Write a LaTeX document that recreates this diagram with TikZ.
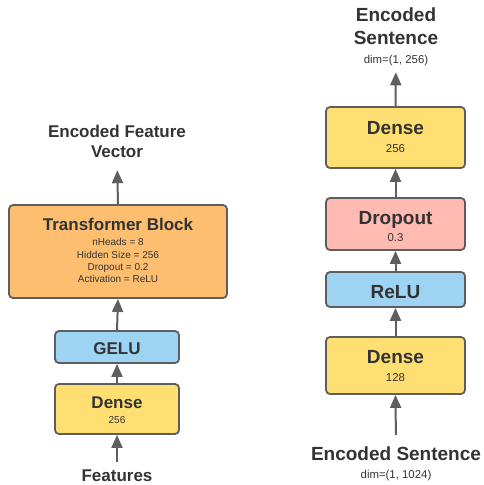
\documentclass[tikz,border=0pt]{standalone}
\usepackage{fontspec}
\setmainfont{Liberation Sans}
\usetikzlibrary{arrows.meta,positioning}
\definecolor{edge}{HTML}{5E5E5E}
\definecolor{wire}{HTML}{5F5F5F}
\definecolor{ink}{HTML}{333333}
\definecolor{tfcol}{HTML}{FDBF6F}
\definecolor{densecol}{HTML}{FFDF71}
\definecolor{actcol}{HTML}{9DD3F3}
\definecolor{dropcol}{HTML}{FFBAB2}

\begin{document}
\begin{tikzpicture}[x=1pt,y=-1pt,
		layer/.style={draw=edge,line width=1.8pt,rounded corners=4pt,inner sep=0pt},
		head/.style={font=\bfseries\fontsize{17}{20.3}\selectfont,text=ink,inner sep=0pt,text height=12.2pt,text depth=0pt},
		note/.style={font=\fontsize{10}{12}\selectfont,text=ink,inner sep=0pt,text height=7.2pt,text depth=0pt},
		headR/.style={head,font=\bfseries\fontsize{19}{23}\selectfont,text height=13.7pt},
		noteR/.style={note,font=\fontsize{11.4}{13}\selectfont,text height=8.2pt},
		flow/.style={draw=wire,line width=2pt,-{Triangle[length=13pt,width=11pt]}}]
		
		\useasboundingbox (0,0) rectangle (483,485);
		
		% feature branch
		\node[layer,fill=tfcol,minimum width=218pt,minimum height=93pt] (tb) at (118,251.5) {};
		\node[layer,fill=actcol,minimum width=124pt,minimum height=32pt] (gelu) at (117,347) {};
		\node[layer,fill=densecol,minimum width=124pt,minimum height=50pt] (fdense) at (117,409) {};
		
		\node[head] (tbname) at (118,224.5) {Transformer Block};
		\node[note] (nheads) at (118,242) {nHeads = 8};
		\node[note] (hidden) at (118,254.5) {Hidden Size = 256};
		\node[note] (tbdrop) at (118,266.8) {Dropout = 0.2};
		\node[note] (tbact) at (118,279) {Activation = ReLU};
		\node[head] (geluname) at (117,348) {GELU};
		\node[head] (fdensename) at (117,402) {Dense};
		\node[note] (fdenseunits) at (117,420) {256};
		
		\node[head] (feat) at (117,475) {Features};
		\node[head,align=center,anchor=south,text height=,text depth=] (fvec) at (117,158.2) {Encoded Feature\\Vector};
		
		\draw[flow,shorten <=7pt] (feat.north) -- (fdense.south);
		\draw[flow] (fdense.north) -- (gelu.south);
		\draw[flow] (gelu.north) -- (tb.south);
		\draw[flow,shorten >=12pt] (tb.north) -- (fvec.south);
		
		% sentence branch
		\node[layer,fill=densecol,minimum width=139pt,minimum height=61pt] (sdense) at (395.5,137.5) {};
		\node[layer,fill=dropcol,minimum width=139pt,minimum height=52pt] (sdrop) at (395.5,224) {};
		\node[layer,fill=actcol,minimum width=139pt,minimum height=35pt] (relu) at (395.5,289.5) {};
		\node[layer,fill=densecol,minimum width=139pt,minimum height=57pt] (sin) at (395.5,365.5) {};
		
		\node[headR] (sdensename) at (395.5,128) {Dense};
		\node[noteR] (sdenseunits) at (395.5,148) {256};
		\node[headR] (sdropname) at (395.5,218) {Dropout};
		\node[noteR] (sdroprate) at (395.5,237.5) {0.3};
		\node[headR] (reluname) at (395.5,292) {ReLU};
		\node[headR] (sinname) at (395.5,357) {Dense};
		\node[noteR] (sinunits) at (395.5,377) {128};
		
		\node[headR,align=center,anchor=south,text height=,text depth=] (souttitle) at (396,44.9) {Encoded\\Sentence};
		\node[noteR] (soutdim) at (396,59) {dim=(1, 256)};
		\node[headR] (sent) at (396,454) {Encoded Sentence};
		\node[noteR] (sentdim) at (396,474) {dim=(1, 1024)};
		
		\draw[flow,shorten <=12pt] (sent.north) -- (sin.south);
		\draw[flow] (sin.north) -- (relu.south);
		\draw[flow] (relu.north) -- (sdrop.south);
		\draw[flow] (sdrop.north) -- (sdense.south);
		\draw[flow,shorten >=9pt] (sdense.north) -- (soutdim.south);
\end{tikzpicture}
\end{document}
